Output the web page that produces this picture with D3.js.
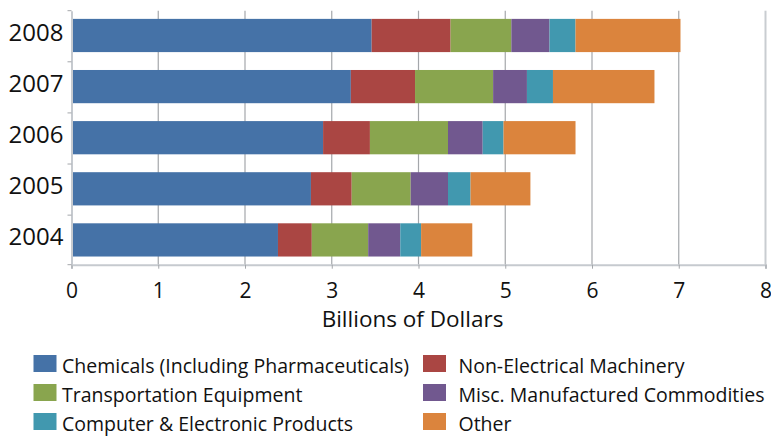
<!DOCTYPE html>
<html>
<head>
<meta charset="utf-8">
<script src="https://cdn.jsdelivr.net/npm/d3@7"></script>
<style>
  body { margin: 0; background: #fff; }
  text { font-family: "Open Sans", Lato, sans-serif; fill: #111; }
</style>
</head>
<body>
<svg></svg>
<script>
var width = 771, height = 437;
var margin = {top: 10.7, left: 71.5, right: 5.5, bottom: 172};

// data
var years = ["2004", "2005", "2006", "2007", "2008"];
var seriesNames = [
  "Chemicals (Including Pharmaceuticals)",
  "Non-Electrical Machinery",
  "Transportation Equipment",
  "Misc. Manufactured Commodities",
  "Computer & Electronic Products",
  "Other"
];
var chemicals = [2.38, 2.76, 2.90, 3.22, 3.46];
var machinery = [0.39, 0.47, 0.54, 0.74, 0.91];
var transport = [0.65, 0.68, 0.90, 0.90, 0.70];
var misc      = [0.37, 0.43, 0.40, 0.39, 0.44];
var computer  = [0.24, 0.26, 0.24, 0.30, 0.30];
var other     = [0.59, 0.69, 0.83, 1.17, 1.21];
var xTicks = [0, 1, 2, 3, 4, 5, 6, 7, 8];

var colors = ["#4572a7", "#aa4643", "#89a54e", "#71588f", "#4198af", "#db843d"];
var seriesValues = [chemicals, machinery, transport, misc, computer, other];

var rows = years.map(function(y, i) {
  var r = {year: y};
  seriesNames.forEach(function(s, j) { r[s] = seriesValues[j][i]; });
  return r;
});

var stacked = d3.stack().keys(seriesNames)(rows);

// SVG setup
var svg = d3.select("svg")
  .attr("width", width)
  .attr("height", height);

var x = d3.scaleLinear()
  .domain([0, 8])
  .range([margin.left, width - margin.right]);

var y = d3.scaleBand()
  .domain(years.slice().reverse())
  .range([margin.top, height - margin.bottom - 0.3])
  .paddingInner(0.35)
  .paddingOuter(0.16);

var plotBottom = y.range()[1];

// gridlines
svg.append("g")
  .selectAll("line")
  .data(xTicks.slice(1))
  .enter()
  .append("line")
    .attr("x1", d => x(d))
    .attr("x2", d => x(d))
    .attr("y1", margin.top)
    .attr("y2", plotBottom)
    .attr("stroke", d => d == 8 ? "#c9cdd1" : "#a4a7ab")
    .attr("stroke-width", d => d == 8 ? 2 : 1.2);

// bars
svg.append("g")
  .selectAll("g")
  .data(stacked)
  .enter()
  .append("g")
    .attr("fill", (d, i) => colors[i])
  .selectAll("rect")
  .data(d => d)
  .enter()
  .append("rect")
    .attr("x", d => x(d[0]))
    .attr("width", d => x(d[1]) - x(d[0]))
    .attr("y", d => y(d.data.year))
    .attr("height", y.bandwidth());

// x axis
var xAxis = svg.append("g")
  .attr("transform", "translate(0," + plotBottom + ")")
  .call(d3.axisBottom(x).tickValues(xTicks).tickSize(4).tickPadding(14).tickFormat(d3.format("d")));
xAxis.select(".domain").attr("stroke", "#c6cacf").attr("stroke-width", 2);
xAxis.selectAll(".tick line").attr("stroke", "#a4a7ab");
xAxis.selectAll("text").style("font-size", "21px").attr("fill", "#111");

// y axis
var yAxis = svg.append("g")
  .attr("transform", "translate(" + margin.left + ",0)")
  .call(d3.axisLeft(y).tickSize(0).tickPadding(8));
yAxis.select(".domain").attr("stroke", "#c6cacf").attr("stroke-width", 2);
yAxis.selectAll("text").style("font-size", "24px").attr("fill", "#111").attr("dy", "0.22em");

// category separators on the y axis
var step = y.step();
var bounds = years.map((d, i) => margin.top + i * step).concat([plotBottom]);
svg.append("g")
  .selectAll("line")
  .data(bounds)
  .enter()
  .append("line")
    .attr("x1", margin.left - 4)
    .attr("x2", margin.left)
    .attr("y1", d => d)
    .attr("y2", d => d)
    .attr("stroke", "#a4a7ab");

// axis title
svg.append("text")
  .attr("x", x(4) - 6)
  .attr("y", 327)
  .attr("text-anchor", "middle")
  .style("font-size", "22.5px")
  .text("Billions of Dollars");

// legend
var legend = svg.append("g")
  .selectAll("g")
  .data(seriesNames)
  .enter()
  .append("g")
    .attr("transform", (d, i) => "translate(" + (i % 2 == 0 ? 33.5 : 423) + "," + (355 + Math.floor(i / 2) * 29) + ")");

legend.append("rect")
  .attr("width", 23)
  .attr("height", 17)
  .attr("fill", (d, i) => colors[i]);

legend.append("text")
  .attr("x", (d, i) => i % 2 == 0 ? 28.5 : 35.5)
  .attr("y", 17.5)
  .style("font-size", "19.5px")
  .text(d => d);
</script>
</body>
</html>
